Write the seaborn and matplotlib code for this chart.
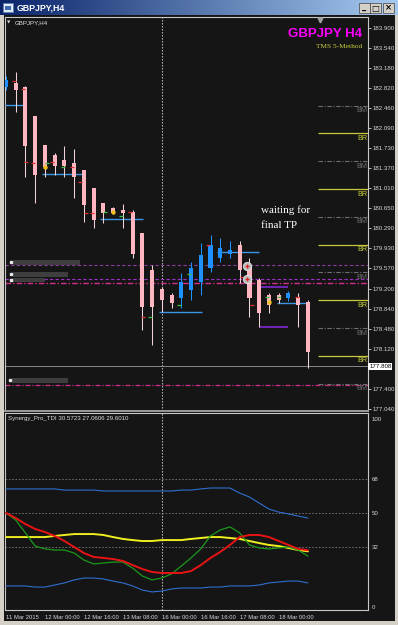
import numpy as np
import matplotlib
matplotlib.use("Agg")
import matplotlib.pyplot as plt
import matplotlib.transforms as mtransforms
from matplotlib.patches import Rectangle
import seaborn as sns

# ---------------- data ----------------
symbol = "GBPJPY"
timeframe = "H4"
opens = [182.833, 182.905, 182.833, 182.312, 181.790, 181.610, 181.520, 181.466, 181.341, 181.017,
         180.747, 180.657, 180.621, 180.585, 180.207, 179.542, 179.200, 179.092, 179.038, 179.182,
         179.326, 179.578, 179.758, 179.830, 179.992, 179.614, 179.362, 179.092, 179.092, 179.038,
         179.056, 178.966]
highs = [183.031, 183.103, 182.851, 182.312, 181.790, 181.646, 181.772, 181.718, 181.341, 181.017,
         180.747, 180.675, 180.729, 180.621, 180.207, 179.632, 179.236, 179.128, 179.488, 179.686,
         180.028, 180.171, 180.118, 180.064, 180.064, 179.758, 179.398, 179.128, 179.128, 179.164,
         179.128, 179.002]
lows = [182.779, 182.384, 181.215, 180.747, 181.215, 181.251, 181.215, 180.837, 180.405, 180.297,
        180.387, 180.549, 180.297, 179.758, 178.463, 178.193, 178.787, 178.859, 178.859, 179.002,
        179.092, 179.506, 179.686, 179.758, 179.308, 178.697, 178.517, 178.769, 178.949, 178.984,
        178.517, 177.779]
closes = [182.959, 182.779, 181.772, 181.251, 181.395, 181.413, 181.413, 181.215, 180.711, 180.441,
          180.567, 180.567, 180.567, 179.830, 178.877, 178.877, 179.002, 178.949, 179.326, 179.578,
          179.812, 179.992, 179.938, 179.902, 179.542, 179.038, 178.769, 178.913, 179.002, 179.128,
          178.913, 178.067]

tdi_upper = [62.8, 62.8, 62.8, 62.8, 62.8, 62.8, 62.2, 62.2, 62.2, 62.2, 61.7, 61.7, 61.7, 61.7, 61.7, 61.7,
             61.7, 61.7, 62.2, 62.2, 62.8, 63.3, 63.3, 63.3, 60.6, 58.5, 55.3, 52.1, 50.5, 49.5, 48.4, 47.3]
tdi_lower = [11.2, 11.2, 11.2, 10.6, 10.6, 11.7, 12.8, 14.4, 15.4, 15.4, 14.9, 13.8, 12.8, 11.2, 9.0, 8.0,
             8.5, 9.6, 10.1, 10.1, 10.1, 10.6, 10.6, 11.2, 11.2, 11.2, 11.7, 12.8, 13.3, 13.8, 13.8, 12.8]
tdi_mid = [37.2, 37.2, 37.2, 37.2, 37.2, 37.8, 38.3, 38.8, 38.8, 38.8, 38.3, 37.2, 36.2, 35.6, 35.1, 35.1,
           35.6, 35.6, 35.6, 36.2, 36.7, 37.2, 37.2, 36.7, 36.2, 35.1, 34.0, 33.0, 32.4, 31.4, 30.3, 29.6]
tdi_signal = [50.0, 47.3, 44.1, 41.5, 39.9, 37.8, 35.1, 31.9, 28.7, 26.6, 26.1, 25.5, 24.5, 22.3, 20.2, 18.6,
              18.1, 18.1, 18.1, 19.1, 22.3, 26.1, 29.3, 33.0, 37.2, 38.3, 38.3, 37.2, 35.1, 33.0, 30.9, 30.2]
tdi_rsi = [50.0, 46.3, 39.4, 32.4, 30.9, 30.3, 30.3, 28.7, 25.0, 22.9, 23.4, 23.9, 23.9, 20.7, 16.5, 14.4,
           15.4, 17.6, 21.8, 26.1, 30.9, 37.8, 41.0, 42.6, 39.4, 33.0, 31.4, 30.9, 31.4, 31.9, 30.3, 27.1]
tdi_label_values = ["30.5723", "27.0606", "29.6010"]

price_ticks = [183.900, 183.540, 183.180, 182.820, 182.460, 182.090, 181.730, 181.370, 181.010, 180.650,
               180.290, 179.930, 179.570, 179.200, 178.840, 178.480, 178.120, 177.400, 177.040]
tdi_ticks = [100, 68, 50, 32, 0]
tdi_levels = [68, 50, 32]
time_tick_bars = [0, 4, 8, 12, 16, 20, 24, 28]
time_labels = ["11 Mar 2015", "12 Mar 00:00", "12 Mar 16:00", "13 Mar 08:00",
               "16 Mar 00:00", "16 Mar 16:00", "17 Mar 08:00", "18 Mar 00:00"]
separator_bar = 16
bid = 177.808

br_levels = [182.0, 181.0, 180.0, 179.0, 178.0, 177.0]
bm_levels = [182.5, 181.5, 180.5, 179.5, 178.5, 177.5]
round_start_bar = 32.0

blue_lv = [182.510, 181.269, 180.459, 178.787, 179.866, 178.949]
blue_from = [-0.1, 3.7, 9.65, 15.7, 21.66, 27.8]
blue_to = [1.85, 7.9, 14.07, 20.1, 25.98, 31.0]
purple_lv = [179.236, 178.517]
purple_from = [26.0, 26.0]
purple_to = [29.0, 29.0]
zone_lines = [179.632, 179.380, 179.308, 177.474]

dot_bars = [4, 11, 27]
dot_prices = [181.395, 180.585, 178.966]
tp_bars = [24.74, 24.74]
tp_prices = [179.614, 179.380]
red_tick_bars = [0.79, 1.75, 2.05, 2.77, 4.72, 6.78, 7.6, 8.21, 8.83, 12.73, 14.07, 20.74, 24.23, 25.26, 29.88]
red_tick_prices = [182.947, 182.797, 181.484, 181.466, 181.484, 181.395, 181.125, 180.567, 180.567,
                   180.585, 178.697, 179.992, 179.416, 178.913, 179.056]
green_tick_bars = [4.21, 5.85, 10.16, 11.81, 14.78, 17.76, 18.79, 26.8, 28.03]
green_tick_prices = [181.466, 181.395, 180.585, 180.513, 178.697, 178.913, 179.470, 179.056, 179.056]

# ---------------- style ----------------
sns.set_theme(style="dark")
plt.rcParams['font.family'] = ['Liberation Sans', 'DejaVu Sans']
BG = '#151515'
W, H = 398.0, 625.0


def fbox(x0, y0, x1, y1):
    return [x0 / W, 1 - y1 / H, (x1 - x0) / W, (y1 - y0) / H]


fig = plt.figure(figsize=(3.98, 6.25), dpi=100)
fig.patch.set_facecolor('#d4d0c8')
fig.add_artist(Rectangle((4 / W, 1 - 621 / H), 391 / W, 606 / H, transform=fig.transFigure,
                         facecolor=BG, edgecolor='none', zorder=-5))

# title bar
tb = fig.add_axes(fbox(0, 0, 398, 15))
grad = np.linspace(0, 1, 256)
c0 = np.array([10, 36, 106]) / 255.0
c1 = np.array([166, 202, 240]) / 255.0
img = (c0[None, :] * (1 - grad[:, None]) + c1[None, :] * grad[:, None])[None, :, :]
tb.imshow(img, aspect='auto', extent=[0, 1, 0, 1])
tb.set_xlim(0, 1); tb.set_ylim(0, 1)
tb.axis('off')
fig.add_artist(Rectangle((3 / W, 1 - 12 / H), 10 / W, 9 / H, transform=fig.transFigure,
                         facecolor='#dfe8f5', edgecolor='#6080b0', lw=0.5, zorder=5))
fig.add_artist(Rectangle((5 / W, 1 - 10 / H), 6 / W, 4 / H, transform=fig.transFigure,
                         facecolor='#3a6ab0', edgecolor='none', zorder=6))
fig.text(17 / W, 1 - 7.8 / H, f"{symbol},{timeframe}", color='white', fontsize=6.3,
         fontweight='bold', va='center', ha='left', zorder=6)
for (bx0, sym) in [(359, '_'), (370, '□'), (383, '×')]:
    fig.add_artist(Rectangle((bx0 / W, 1 - 13 / H), 11 / W, 10 / H, transform=fig.transFigure,
                             facecolor='#d4d0c8', edgecolor='#404040', lw=0.5, zorder=5))
    fig.text((bx0 + 5.5) / W, 1 - 8 / H, sym, color='black', fontsize=6, fontweight='bold',
             family=['DejaVu Sans'], ha='center', va='center', zorder=6)

# panes
ax = fig.add_axes(fbox(5, 17, 368, 411))
ax2 = fig.add_axes(fbox(5, 413, 368, 610))
for a in (ax, ax2):
    a.set_facecolor(BG)
    a.grid(False)
    for s in a.spines.values():
        s.set_color('#c8c8c8')
        s.set_linewidth(0.8)
ax.spines['bottom'].set_color('#9a9a9a')
ax.spines['bottom'].set_linewidth(1.4)
ax.set_xlim(-0.1, 37.17)
ax.set_ylim(177.006, 184.092)
ax2.set_xlim(-0.1, 37.17)
ax2.set_ylim(-1.6, 103.2)

# price axis
ax.yaxis.tick_right()
ax.set_yticks(price_ticks)
ax.set_yticklabels([f"{p:.3f}" for p in price_ticks])
ax.tick_params(axis='y', colors='#d8d8d8', labelsize=4.4, length=2, width=0.6, pad=1.5)
ax.set_xticks([])

# candles
bars = np.arange(len(opens))
o, h, l, c = map(np.array, (opens, highs, lows, closes))
bull = c >= o
body_col = np.where(bull, '#1e90ff', '#ffb6c1')
wick_col = np.where(bull, '#1e90ff', '#f0d4da')

# full-width zone lines
ax.axhline(zone_lines[0], color='#8a3a9a', lw=0.8, dashes=(3, 2), zorder=2)
ax.axhline(zone_lines[1], color='#9a32c8', lw=0.8, dashes=(3, 2), zorder=2)
ax.axhline(zone_lines[2], color='#d0308c', lw=1.0, dashes=(4, 1.5, 1, 1.5), zorder=2)
ax.axhline(zone_lines[3], color='#d0308c', lw=0.9, dashes=(4, 1.5, 1, 1.5), zorder=2)
ax.axhline(bid, color='#9a9a9a', lw=0.6, zorder=2)

# round-number levels
ax.hlines(br_levels, round_start_bar, 37.17, color='#c8c83c', lw=0.9, zorder=2)
ax.hlines(bm_levels, round_start_bar, 37.17, color='#6e6e6e', lw=0.8, linestyles=(0, (4, 1.5, 1, 1.5)), zorder=2)
for lv in br_levels:
    ax.text(37.07, lv - 0.03, 'BR', color='#c8c83c', fontsize=5.2, ha='right', va='top', clip_on=True)
for lv in bm_levels:
    ax.text(37.07, lv - 0.03, 'BM', color='#6e6e6e', fontsize=5.2, ha='right', va='top', clip_on=True)

# label boxes at left (object labels)
blend = mtransforms.blended_transform_factory(ax.transAxes, ax.transData)
for (x0, x1, y0, y1) in [(0.022, 0.207, 179.632, 179.722), (0.022, 0.174, 179.416, 179.506),
                         (0.022, 0.110, 179.326, 179.398), (0.019, 0.174, 177.510, 177.600)]:
    ax.add_patch(Rectangle((x0, y0), x1 - x0, y1 - y0, transform=blend, facecolor='#3e3e3e',
                           edgecolor='none', zorder=3))
    ax.plot([x0 - 0.006], [(y0 + y1) / 2], marker='s', ms=1.8, color='#e8e8e8', transform=blend, zorder=4)

# short level segments
ax.hlines(blue_lv, blue_from, blue_to, color='#3c96e6', lw=1.0, zorder=3)
ax.hlines(purple_lv, purple_from, purple_to, color='#8a2be2', lw=1.1, zorder=3)

ax.vlines(bars, l, h, colors=wick_col, lw=0.75, zorder=4)
ax.bar(bars, np.maximum(np.abs(c - o), 0.01), bottom=np.minimum(o, c), width=0.42,
       color=body_col, linewidth=0, zorder=5)

# small signal ticks
ax.plot(red_tick_bars, red_tick_prices, ls='none', marker='_', ms=3, mew=0.9, color='#e03030', zorder=6)
ax.plot(green_tick_bars, green_tick_prices, ls='none', marker='_', ms=3, mew=0.9, color='#40c040', zorder=6)
ax.scatter(dot_bars, dot_prices, s=10, color='#f0c020', zorder=7, linewidths=0)
ax.scatter(tp_bars, tp_prices, s=36, facecolor='#bdbdbd', edgecolor='#e6e6e6', linewidths=0.6, zorder=7)
ax.scatter(tp_bars, tp_prices, s=10, marker='+', color='#e02020', linewidths=0.9, zorder=8)

# bid price box
ax.text(1.003, bid, f"{bid:.3f}", transform=blend, ha='left', va='center', fontsize=4.4,
        color='black', bbox=dict(facecolor='white', edgecolor='none', pad=0.6), clip_on=False, zorder=10)

# shift marker
ax.plot([0.868], [0.992], marker='v', ms=3.5, color='#a0a0a0', transform=ax.transAxes, clip_on=False, zorder=9)

# texts in main pane
fig.text(9 / W, 1 - 23 / H, '▼', color='#e0e0e0', fontsize=3.2, ha='center', va='center',
         family=['DejaVu Sans'])
fig.text(15 / W, 1 - 23 / H, f"{symbol},{timeframe}", color='#e0e0e0', fontsize=4.4, ha='left', va='center')
fig.text(362 / W, 1 - 34 / H, f"{symbol} {timeframe}", color='#ff00ff', fontsize=9.5, fontweight='bold',
         family=['Liberation Sans'], ha='right', va='center')
fig.text(362 / W, 1 - 47 / H, "TMS 5-Method", color='#d0d040', fontsize=5.3,
         family=['Liberation Serif'], ha='right', va='center')
fig.text(261 / W, 1 - 210 / H, "waiting for", color='white', fontsize=8,
         family=['Liberation Serif'], ha='left', va='center')
fig.text(261 / W, 1 - 226 / H, "final TP", color='white', fontsize=8,
         family=['Liberation Serif'], ha='left', va='center')

# separator vertical
for a in (ax, ax2):
    a.axvline(separator_bar, color='#c8c8c8', lw=0.8, ls=(0, (1.2, 1.5)), zorder=1)

# indicator pane
for lv in tdi_levels:
    ax2.axhline(lv, color='#7a7a7a', lw=0.6, ls=(0, (2, 2)), zorder=1)
sns.lineplot(x=bars, y=tdi_upper, ax=ax2, color='#2f6fd0', linewidth=0.8, zorder=3)
sns.lineplot(x=bars, y=tdi_lower, ax=ax2, color='#2f6fd0', linewidth=0.8, zorder=3)
sns.lineplot(x=bars, y=tdi_mid, ax=ax2, color='#f0f020', linewidth=1.4, zorder=4)
sns.lineplot(x=bars, y=tdi_rsi, ax=ax2, color='#1a9a1a', linewidth=0.9, zorder=5)
sns.lineplot(x=bars, y=tdi_signal, ax=ax2, color='#e81414', linewidth=1.4, zorder=5)
ax2.set_xlabel('')
ax2.set_ylabel('')
ax2.set_xlim(-0.1, 37.17)
ax2.set_ylim(-1.6, 103.2)
ax2.yaxis.tick_right()
ax2.set_yticks(tdi_ticks)
ax2.set_yticklabels([str(t) for t in tdi_ticks])
ax2.tick_params(axis='y', colors='#d8d8d8', labelsize=4.4, length=0, pad=2.5)
ax2.set_xticks(time_tick_bars)
ax2.set_xticklabels(time_labels, ha='left')
ax2.tick_params(axis='x', colors='#d8d8d8', labelsize=4.2, length=2.5, width=0.6, pad=1.2)
ax2.text(0.008, 0.985, "Synergy_Pro_TDI " + " ".join(tdi_label_values), transform=ax2.transAxes,
         color='#e0e0e0', fontsize=4.4, ha='left', va='top')

fig.savefig("out.png", dpi=100, facecolor=fig.get_facecolor())
